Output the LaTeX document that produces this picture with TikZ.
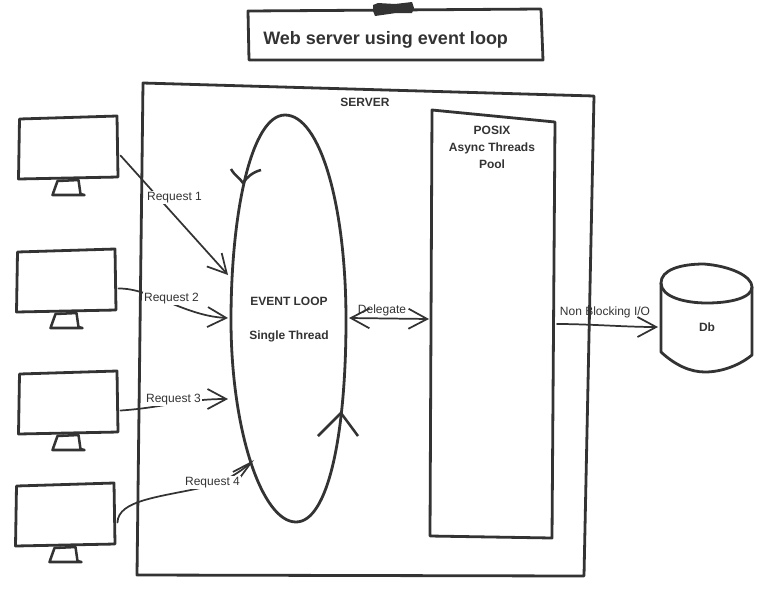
\documentclass[tikz,border=0pt]{standalone}
\usepackage{fontspec}
\setmainfont{Liberation Sans}
\usepackage{xcolor}
\usetikzlibrary{arrows.meta}
\definecolor{ink}{HTML}{333333}

\begin{document}
\begin{tikzpicture}[
    x=0.75pt, y=-0.75pt,
    font=\fontsize{9pt}{12.75pt}\selectfont,
    every node/.style={text=ink},
    shape line/.style={draw=ink, line width=2.1pt, line join=round},
    thin line/.style={draw=ink, line width=1.3pt, line cap=round},
    msg/.style={thin line, -{Straight Barb[length=14pt, width=15pt]}},
    both/.style={thin line, {Straight Barb[length=14pt, width=15pt]}-{Straight Barb[length=14pt, width=15pt]}},
    tag/.style={fill=white, inner xsep=0.5pt, inner ysep=0.5pt},
    plain tag/.style={inner sep=0pt},
    heading/.style={font=\fontsize{9pt}{12.75pt}\selectfont\bfseries, align=center, inner sep=0pt},
    monitor/.pic={
        \draw[shape line] (0,0) -- (97.5,-3) -- (98.5,58) -- (-1,60) -- cycle;
        \draw[shape line, line width=1.9pt] (38,62) -- (59,61) -- (61,75) -- (65,76) -- (33,76) -- cycle;
        \coordinate (-port) at (101,36.5);
    }
]

\useasboundingbox (0,0) rectangle (768,594);

% Title
\draw[shape line] (248,11) -- (541,9) -- (543,60) -- (249,60) -- cycle;
\fill[ink] (373,5) -- (378,3) -- (395,4) -- (412,2) -- (414,8) -- (412,13) -- (396,13) -- (375,16) -- (373,11) -- cycle;
\node[anchor=west, inner sep=0pt, font=\fontsize{13.5pt}{16pt}\selectfont\bfseries] (title) at (263,39.5) {Web server using event loop};

% Server and thread pool
\draw[shape line] (143,83) -- (594,96) -- (584,576) -- (137,575) -- cycle;
\node[heading] (server) at (365,102) {SERVER};
\draw[shape line] (432,110) -- (555,122) -- (552,538) -- (430,536) -- cycle;
\node[heading] (pool) at (492,147) {POSIX\\Async Threads\\Pool};

% Event loop
\draw[shape line] (285,115) .. controls (320,115) and (346,205) .. (346,320)
    .. controls (346,435) and (328,522) .. (296,522)
    .. controls (262,522) and (231,430) .. (231,320)
    .. controls (231,210) and (252,115) .. (285,115) -- cycle;
\draw[shape line, line width=1.9pt] (231,169) .. controls (235,176) and (239,177) .. (243,183) .. controls (247,177) and (253,172) .. (261,170);
\draw[shape line, line width=1.9pt] (318,436) -- (341,413) -- (358,436);
\node[heading] (loop) at (289,319.5) {EVENT LOOP\\[13pt]Single Thread};

% Clients
\pic (pc1) at (19.5,119) {monitor};
\pic (pc2) at (17.5,252) {monitor};
\pic (pc3) at (19.5,374) {monitor};
\pic (pc4) at (16.5,486) {monitor};

% Db
\draw[shape line] (661,283) .. controls (661,270) and (680,264) .. (704,264)
    .. controls (730,266) and (752,276) .. (752,287)
    .. controls (752,298) and (730,303) .. (707,303)
    .. controls (685,303) and (661,297) .. (661,283) -- cycle;
\draw[shape line] (661,283) -- (661,352) .. controls (675,365) and (690,372) .. (705,372)
    .. controls (722,372) and (740,365) .. (752,355) -- (752,287);
\node[heading] (db) at (707,327) {Db};

% Arrow ends
\coordinate (in1) at (228,275);
\coordinate (in2) at (228,318);
\coordinate (in3) at (228,399);
\coordinate (in4) at (254,460);
\coordinate (loopout) at (349,318);
\coordinate (poolin) at (429,319);
\coordinate (poolout) at (557,324);
\coordinate (dbin) at (658,327);

% Requests
\draw[msg] (pc1-port) -- (in1);
\draw[msg] (pc2-port) .. controls (150,288) and (185,316) .. (in2);
\draw[msg] (pc3-port) .. controls (160,408) and (185,399) .. (in3);
\draw[thin line, -{Straight Barb[length=15pt, width=7pt]}] (pc4-port) .. controls (118,500) and (160,497) .. (205,487) .. controls (225,482) and (240,472) .. (in4);
\node[tag] (req1) at (174.5,197.5) {Request 1};
\node[tag] (req2) at (171.5,298.5) {Request 2};
\node[tag] (req3) at (173.5,399.5) {Request 3};
\node[tag] (req4) at (212.5,482.5) {Request 4};

% Delegate and I/O
\draw[both] (loopout) -- (poolin);
\node[plain tag] (deleg) at (382,310) {Delegate};
\draw[msg] (poolout) .. controls (590,324) and (625,327) .. (dbin);
\node[plain tag] (nbio) at (605,312) {Non Blocking I/O};

\end{tikzpicture}
\end{document}
